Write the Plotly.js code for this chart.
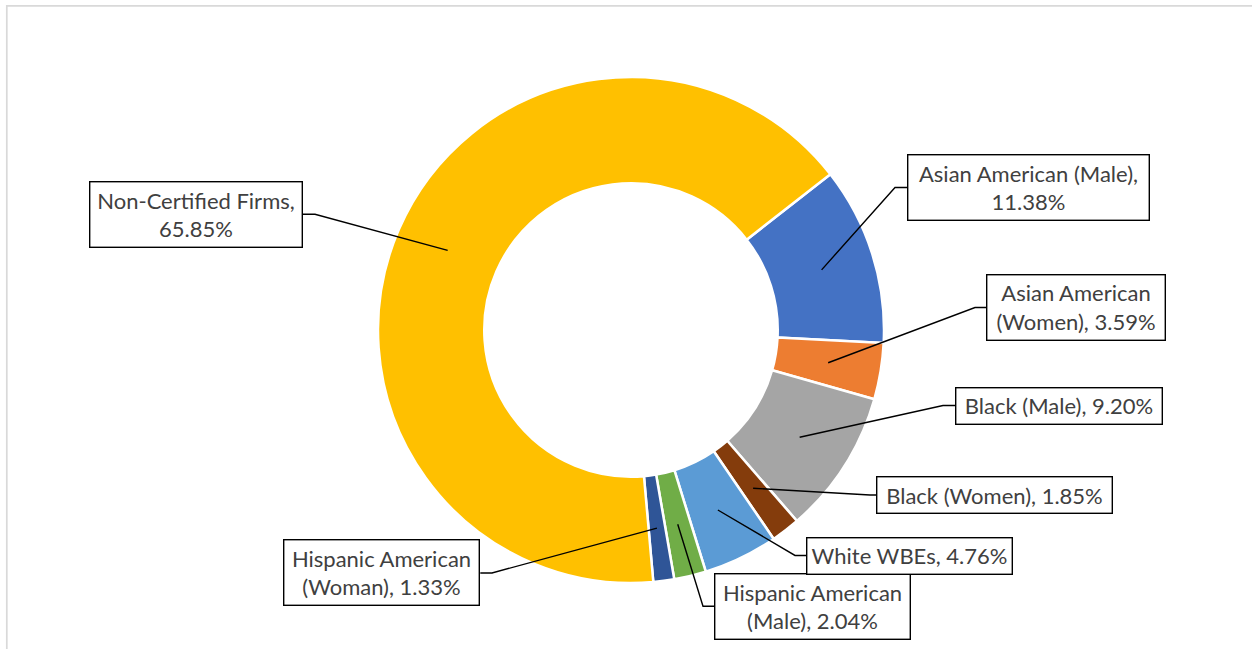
<!DOCTYPE html>
<html><head><meta charset="utf-8">
<script src="https://cdn.plot.ly/plotly-3.0.1.min.js"></script>
<style>html,body{margin:0;padding:0;background:#fff;} #chart{width:1252px;height:649px;}</style>
</head><body><div id="chart"></div>
<script>
// ---- data ----
const categories = ["Asian American (Male)", "Asian American (Women)", "Black (Male)", "Black (Women)", "White WBEs", "Hispanic American (Male)", "Hispanic American (Woman)", "Non-Certified Firms"];
const shares = [11.38, 3.59, 9.20, 1.85, 4.76, 2.04, 1.33, 65.85];
const wrappedNames = ["Asian American (Male)", "Asian American<br>(Women)", "Black (Male)", "Black (Women)", "White WBEs", "Hispanic American<br>(Male)", "Hispanic American<br>(Woman)", "Non-Certified Firms"];
const separators = [",<br>", ", ", ", ", ", ", ", ", ", ", ", ", ",<br>"];

// ---- styles / layout geometry ----
const colors = ["#4472C4", "#ED7D31", "#A5A5A5", "#843C0C", "#5B9BD5", "#70AD47", "#2F5597", "#FFC000"];
const W = 1252, H = 649;
const cx = 631, cy = 330, R = 253, holeFrac = 0.58, rotationDeg = 52;
// label boxes: left, top, width, height (px), side where leader attaches, elbow x
const boxes = [
  {x: 907, y: 154, w: 243, h: 67, side: "left", ex: 895},
  {x: 986, y: 274.3, w: 180, h: 66.5, side: "left", ex: 975},
  {x: 955, y: 386.7, w: 208, h: 37.5, side: "left", ex: 943},
  {x: 876, y: 476, w: 237, h: 38, side: "left", ex: 870},
  {x: 714.3, y: 572.7, w: 197, h: 67, side: "left", ex: 703},
  {x: 806, y: 536.7, w: 207, h: 37.5, side: "left", ex: 795},
  {x: 283.3, y: 539.3, w: 197, h: 67.3, side: "right", ex: 492},
  {x: 89, y: 180.7, w: 214, h: 67, side: "right", ex: 315}
];
const boxOrder = [0, 1, 2, 3, 5, 4, 6, 7]; // category index for each box entry

const px = v => v / W, py = v => 1 - v / H;

const trace = {
  type: "pie",
  labels: categories,
  values: shares,
  sort: false,
  direction: "clockwise",
  rotation: rotationDeg,
  hole: holeFrac,
  textinfo: "none",
  hoverinfo: "label+percent",
  showlegend: false,
  marker: {colors: colors, line: {color: "#ffffff", width: 2.5}},
  domain: {x: [px(cx - R), px(cx + R)], y: [py(cy + R), py(cy - R)]}
};

// leader tips at slice mid-angle, mid-ring radius
const total = shares.reduce((a, b) => a + b, 0);
const rMid = R * (1 + holeFrac) / 2;
const tips = [];
let cum = 0;
shares.forEach(v => {
  const mid = (rotationDeg + (cum + v / 2) / total * 360) * Math.PI / 180;
  tips.push([cx + rMid * Math.sin(mid), cy - rMid * Math.cos(mid)]);
  cum += v;
});

const shapes = [{
  type: "rect", xref: "paper", yref: "paper",
  x0: px(6.8), x1: px(1262), y0: py(5.8), y1: py(670),
  line: {color: "#D9D9D9", width: 1.7}, fillcolor: "rgba(0,0,0,0)", layer: "below"
}];
const annotations = [];
const bw = 1.4;
boxes.forEach((b, k) => {
  const i = boxOrder[k];
  const ay = b.y + b.h / 2;
  const ax = b.side === "left" ? b.x : b.x + b.w;
  const t = tips[i];
  shapes.push({
    type: "path", xref: "paper", yref: "paper",
    path: `M ${px(ax)} ${py(ay)} L ${px(b.ex)} ${py(ay)} L ${px(t[0])} ${py(t[1])}`,
    line: {color: "#000000", width: 1.4}, layer: "above"
  });
  annotations.push({
    xref: "paper", yref: "paper", x: px(b.x), y: py(b.y),
    xanchor: "left", yanchor: "top",
    width: b.w - 2 * bw, height: b.h - 2 * bw,
    text: wrappedNames[i] + separators[i] + shares[i].toFixed(2) + "%",
    showarrow: false, align: "center", valign: "middle",
    bgcolor: "#ffffff", bordercolor: "#000000", borderwidth: bw, borderpad: 0,
    font: {family: "Lato, 'Noto Sans', sans-serif", size: 22, color: "#404040"}
  });
});

Plotly.newPlot("chart", [trace], {
  width: W, height: H,
  margin: {l: 0, r: 0, t: 0, b: 0},
  paper_bgcolor: "#ffffff",
  shapes: shapes,
  annotations: annotations
}, {displayModeBar: false, staticPlot: true});
</script>
</body></html>
